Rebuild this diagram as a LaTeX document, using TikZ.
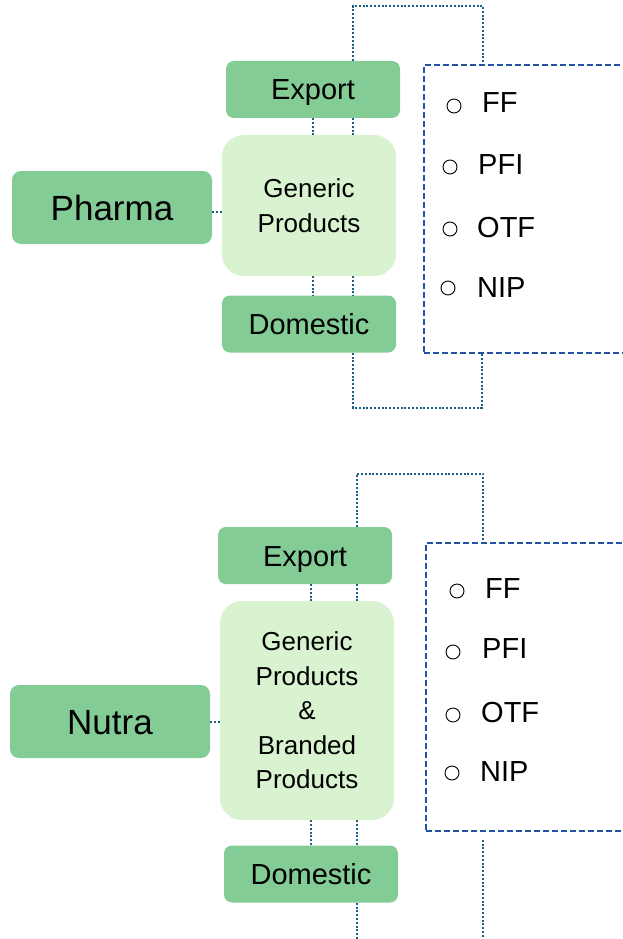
\documentclass[tikz,border=0pt]{standalone}
\usepackage{fontspec}
\setmainfont{Liberation Sans}
\usetikzlibrary{positioning}
\definecolor{boxgreen}{HTML}{84CC95}
\definecolor{palegreen}{HTML}{D9F2D0}
\definecolor{dashblue}{HTML}{2152A3}
\definecolor{dotblue}{HTML}{1C5F86}

\tikzset{
  catbox/.style={fill=boxgreen, rounded corners=9pt, minimum width=200pt,
    minimum height=73pt, inner sep=0pt, font=\fontsize{35}{40}\selectfont,
    text height=25pt, text depth=0pt},
  mktbox/.style={fill=boxgreen, rounded corners=8pt, minimum width=174pt,
    minimum height=57pt, inner sep=0pt, font=\fontsize{29}{34}\selectfont,
    text height=21pt, text depth=0pt},
  prodbox/.style={fill=palegreen, rounded corners=22pt, minimum width=174pt,
    inner sep=0pt, align=center, font=\fontsize{26}{34.5}\selectfont},
  listbox/.style={draw=dashblue, line width=1.8pt, dash pattern=on 6pt off 3pt,
    anchor=north west, minimum width=215pt, minimum height=288pt, inner sep=0pt},
  link/.style={draw=dotblue, line width=2pt, dash pattern=on 2pt off 1.8pt},
  bullet/.style={circle, draw=black, line width=0.9pt, minimum size=14pt, inner sep=0pt},
  item/.style={anchor=base west, inner sep=0pt, font=\fontsize{29}{34}\selectfont},
}

\begin{document}
\begin{tikzpicture}[x=1pt, y=-1pt]
  \useasboundingbox (0,0) rectangle (623,939);

  % Pharma
  \node[catbox] (pharma) at (112,207.5) {Pharma};
  \node[mktbox] (export1) at (313,89.5) {Export};
  \node[prodbox, minimum height=141pt] (generic1) at (309,205.5) {Generic\\Products};
  \node[mktbox] (domestic1) at (309,324) {Domestic};
  \node[listbox] (list1) at (423,64) {};
  \foreach \cx/\cy/\tx/\by/\t [count=\i] in
    {454/106/482/113/FF, 450/167/478/174/PFI, 450/229/477/237/OTF, 448/288/477/297/NIP}{
    \node[bullet] (bul1\i) at (\cx,\cy) {};
    \node[item] (itm1\i) at (\tx,\by) {\t};
  }
  \draw[link] ([yshift=-4pt]pharma.east) -- ([yshift=-4pt]pharma.east -| generic1.west);
  \draw[link] (export1.south) -- (export1.south |- generic1.north);
  \draw[link] ([xshift=40pt]export1.south) -- ([xshift=40pt]export1.south |- generic1.north);
  \draw[link] (export1.south |- generic1.south) -- (export1.south |- domestic1.north);
  \draw[link] ([xshift=40pt]export1.south |- generic1.south)
    -- ([xshift=40pt]export1.south |- domestic1.north);
  \draw[link] ([xshift=40pt]export1.north) -- ++(0,-55) -| ([xshift=60pt]list1.north west);
  \draw[link] ([xshift=44pt]domestic1.south) -- ++(0,55) -| ([xshift=59pt]list1.south west);

  % Nutra
  \node[catbox] (nutra) at (110,721.5) {Nutra};
  \node[mktbox] (export2) at (305,555.5) {Export};
  \node[prodbox, minimum height=219pt] (generic2) at (307,710.5)
    {Generic\\Products\\\&\\Branded\\Products};
  \node[mktbox] (domestic2) at (311,874) {Domestic};
  \node[listbox] (list2) at (425,542) {};
  \foreach \cx/\cy/\tx/\by/\t [count=\i] in
    {457/591/485/598/FF, 453/652/482/658/PFI, 453/715/481/722/OTF, 452/773/480/781/NIP}{
    \node[bullet] (bul2\i) at (\cx,\cy) {};
    \node[item] (itm2\i) at (\tx,\by) {\t};
  }
  \draw[link] (nutra.east) -- (nutra.east -| generic2.west);
  \draw[link] ([xshift=6pt]export2.south) -- ([xshift=6pt]export2.south |- generic2.north);
  \draw[link] ([xshift=52pt]export2.south) -- ([xshift=52pt]export2.south |- generic2.north);
  \draw[link] ([xshift=6pt]export2.south |- generic2.south)
    -- ([xshift=6pt]export2.south |- domestic2.north);
  \draw[link] ([xshift=52pt]export2.south |- generic2.south)
    -- ([xshift=52pt]export2.south |- domestic2.north);
  \draw[link] ([xshift=52pt]export2.north) -- ++(0,-53) -| ([xshift=58pt]list2.north west);
  \draw[link] ([xshift=46pt]domestic2.south) -- ++(0,40);
  \draw[link] ([xshift=58pt,yshift=-8pt]list2.south west) -- ++(0,105);
\end{tikzpicture}
\end{document}
